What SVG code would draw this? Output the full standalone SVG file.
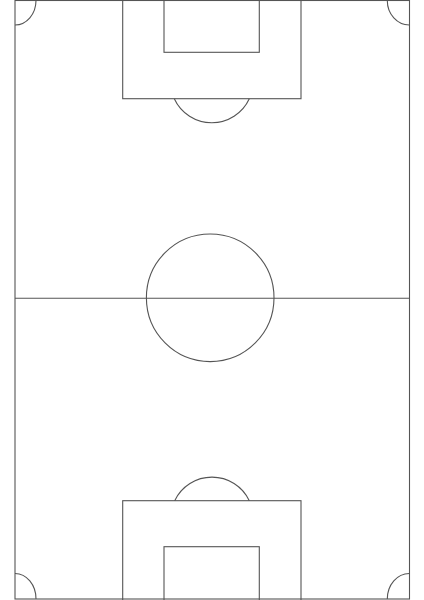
<svg xmlns="http://www.w3.org/2000/svg" width="424" height="600" viewBox="0 0 424 600">
<style>
.l{fill:none;stroke:#555;stroke-width:1.1}
</style>
<rect width="424" height="600" fill="#fff"/>
<g id="field">
<rect class="l" x="15" y="0.5" width="394.5" height="598.5"/>
<line class="l" x1="15" y1="298.3" x2="409.5" y2="298.3"/>
<circle class="l" cx="210.2" cy="297.8" r="63.8"/>
</g>
<g id="top-goal">
<rect class="l" x="122.7" y="-1" width="178.3" height="99.7"/>
<rect class="l" x="164" y="-1" width="95.3" height="53.3"/>
<path class="l" d="M174.3,98.7 A41.3,41.3 0 0 0 249.3,98.7"/>
</g>
<g id="bottom-goal">
<rect class="l" x="122.7" y="500.7" width="178.3" height="100"/>
<rect class="l" x="164" y="546.7" width="95.3" height="54"/>
<path class="l" d="M174.7,500.7 A41.3,41.3 0 0 1 249.3,500.7"/>
</g>
<g id="corners">
<path class="l" d="M36,0.5 A21,24.5 0 0 1 15,25"/>
<path class="l" d="M387.3,0.5 A22,24.5 0 0 0 409.5,25"/>
<path class="l" d="M15,573.5 A21,25.5 0 0 1 36,599"/>
<path class="l" d="M409.5,573.5 A22,25.5 0 0 0 387.3,599"/>
</g>
</svg>
